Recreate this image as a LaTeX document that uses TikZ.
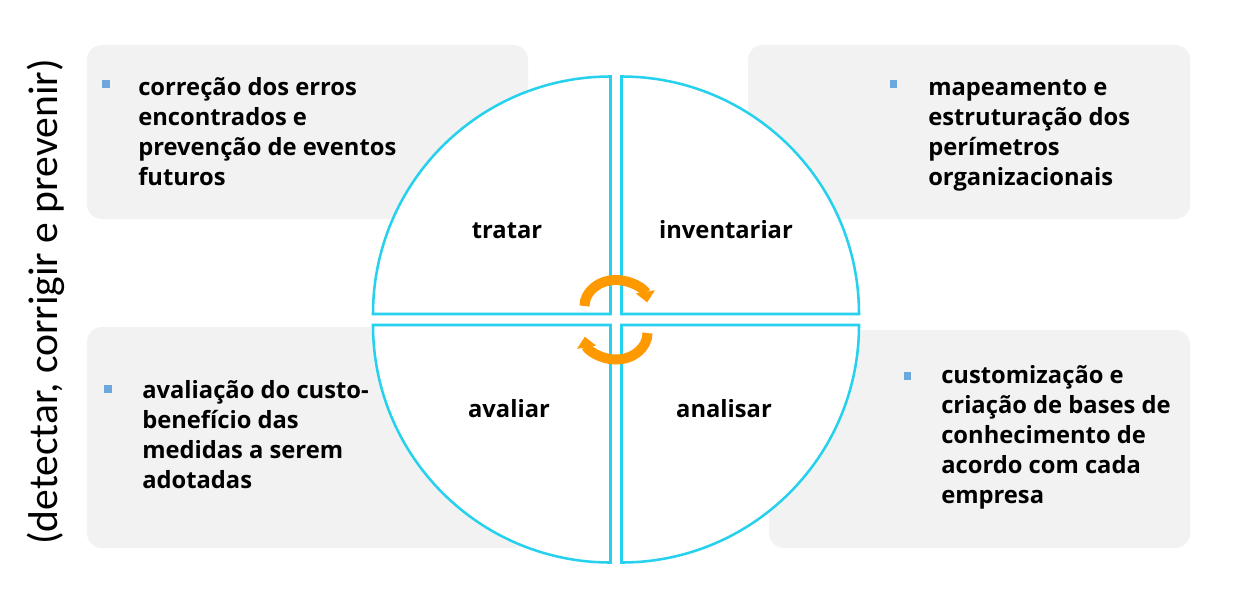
\documentclass[tikz,border=0pt]{standalone}
\usepackage{fontspec}
\setmainfont{Open Sans}
\newfontfamily\lemafont{Carlito}
\usetikzlibrary{arrows.meta}
\definecolor{cinza-caixa}{RGB}{242,242,242}
\definecolor{ciano-roda}{RGB}{38,209,237}
\definecolor{laranja-ciclo}{RGB}{255,153,0}
\definecolor{azul-marca}{RGB}{108,168,222}

\begin{document}
\begin{tikzpicture}[x=0.75pt, y=-0.75pt,
  caixa/.style={fill=cinza-caixa, rounded corners=11pt},
  quarto/.style={draw=ciano-roda, line width=1.9pt, fill=white},
  marca/.style={fill=azul-marca, minimum size=5.8pt, inner sep=0pt},
  texto/.style={anchor=base west, inner sep=0pt, align=left, font=\fontsize{17.8}{22.5}\selectfont\bfseries},
  rotulo/.style={anchor=base, inner sep=0pt, font=\fontsize{17.8}{22.5}\selectfont\bfseries},
  ciclo/.style={draw=laranja-ciclo, line width=7.5pt, -{Triangle[length=8pt,width=14pt]}}]
	  \useasboundingbox (0,0) rectangle (1244,607);
	  % caixas de fundo
	  \fill[caixa] (87,45) rectangle (528,219);
	  \fill[caixa] (748,45) rectangle (1190,219);
	  \fill[caixa] (87,327) rectangle (528,548);
	  \fill[caixa] (769,330) rectangle (1190,548);
	  % roda em quatro partes
	  \draw[quarto] (610.5,314) -- (373,314) arc[start angle=180, end angle=270, radius=237.5] -- cycle;
	  \draw[quarto] (621.5,314) -- (621.5,76.5) arc[start angle=270, end angle=360, radius=237.5] -- cycle;
	  \draw[quarto] (621.5,325) -- (859,325) arc[start angle=0, end angle=90, radius=237.5] -- cycle;
	  \draw[quarto] (610.5,325) -- (610.5,562.5) arc[start angle=90, end angle=180, radius=237.5] -- cycle;
	  \node[rotulo] (tratar) at (507,238) {tratar};
	  \node[rotulo] (inventariar) at (726,238) {inventariar};
	  \node[rotulo] (avaliar) at (509,417) {avaliar};
	  \node[rotulo] (analisar) at (724,417) {analisar};
	  % setas do ciclo
	  \draw[ciclo] (584.5,306) arc[start angle=180, end angle=352, x radius=31.5, y radius=26];
	  \draw[ciclo] (647.5,333) arc[start angle=0, end angle=172, x radius=31.5, y radius=26.5];
	  % textos (ancorados na linha de base da ultima linha)
	  \node[marca] (m1) at (106,84) {};
	  \node[texto] (t1) at (138,185) {correção dos erros\\encontrados e\\prevenção de eventos\\futuros};
	  \node[marca] (m2) at (893.5,84) {};
	  \node[texto] (t2) at (928,185) {mapeamento e\\estruturação dos\\perímetros\\organizacionais};
	  \node[marca] (m3) at (108,389) {};
	  \node[texto] (t3) at (142,488) {avaliação do custo-\\benefício das\\medidas a serem\\adotadas};
	  \node[marca] (m4) at (907.5,376) {};
	  \node[texto] (t4) at (941,503) {customização e\\criação de bases de\\conhecimento de\\acordo com cada\\empresa};
	  \node[rotate=90, font=\lemafont\fontsize{31.2}{36}\selectfont] (lema) at (46,302) {(detectar, corrigir e prevenir)};
	\end{tikzpicture}
\end{document}
